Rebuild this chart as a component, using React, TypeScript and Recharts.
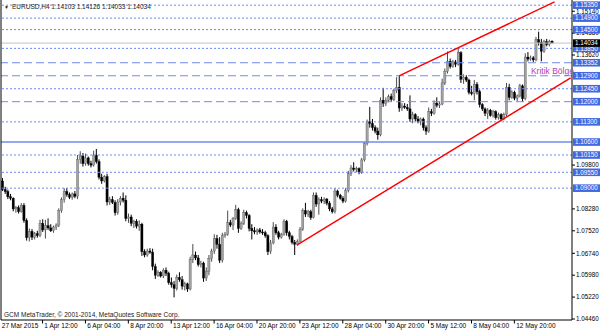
import React from 'react';
import { ComposedChart, Bar, Line, XAxis, YAxis, ReferenceLine, ReferenceDot } from 'recharts';

// ---- EURUSD H4 candles ----
const OPEN = [
  1.0925,1.0895,1.0888,1.0870,1.0865,1.0828,1.0832,1.0818,1.0840,1.0788,
  1.0728,1.0750,1.0730,1.0742,1.0735,1.0778,1.0755,1.0770,1.0762,1.0752,
  1.0765,1.0772,1.0822,1.0860,1.0888,1.0878,1.0868,1.0880,1.0872,1.1000,
  1.1012,1.0985,1.1005,1.0985,1.0980,1.1015,1.0992,1.0938,1.0925,1.0940,
  1.0852,1.0860,1.0850,1.0815,1.0852,1.0865,1.0858,1.0795,1.0800,1.0778,
  1.0785,1.0768,1.0775,1.0680,1.0668,1.0682,1.0678,1.0628,1.0598,1.0608,
  1.0595,1.0615,1.0605,1.0572,1.0565,1.0552,1.0590,1.0582,1.0560,1.0568,
  1.0550,1.0652,1.0668,1.0658,1.0635,1.0640,1.0588,1.0612,1.0655,1.0682,
  1.0725,1.0705,1.0650,1.0735,1.0740,1.0780,1.0772,1.0795,1.0825,1.0760,
  1.0778,1.0815,1.0805,1.0760,1.0752,1.0748,1.0755,1.0748,1.0745,1.0735,
  1.0680,1.0710,1.0765,1.0745,1.0730,1.0740,1.0785,1.0745,1.0732,1.0712,
  1.0705,1.0715,1.0758,1.0822,1.0810,1.0818,1.0798,1.0875,1.0845,1.0860,
  1.0855,1.0862,1.0848,1.0828,1.0818,1.0890,1.0875,1.0865,1.0855,1.0892,
  1.0950,1.0970,1.0965,1.0968,1.0955,1.0998,1.1055,1.1130,1.1125,1.1110,
  1.1098,1.1085,1.1205,1.1195,1.1205,1.1218,1.1208,1.1238,1.1250,1.1178,
  1.1185,1.1180,1.1175,1.1140,1.1155,1.1140,1.1132,1.1140,1.1110,1.1098,
  1.1165,1.1160,1.1195,1.1188,1.1192,1.1265,1.1305,1.1340,1.1322,1.1338,
  1.1330,1.1370,1.1278,1.1285,1.1275,1.1232,1.1228,1.1260,1.1235,1.1190,
  1.1175,1.1160,1.1170,1.1152,1.1165,1.1145,1.1155,1.1140,1.1155,1.1250,
  1.1215,1.1232,1.1212,1.1220,1.1255,1.1210,1.1355,1.1348,1.1352,1.1345,
  1.1415,1.1405,1.1375,1.1408,1.1398,1.14103,
];
const HIGH = [
  1.0935,1.0905,1.0895,1.0880,1.0868,1.0838,1.0840,1.0848,1.0848,1.0795,
  1.0760,1.0758,1.0748,1.0752,1.0790,1.0792,1.0790,1.0795,1.0775,1.0770,
  1.0778,1.0830,1.0868,1.0900,1.0900,1.0885,1.0885,1.0890,1.1015,1.1028,
  1.1022,1.1020,1.1010,1.0995,1.1030,1.1036,1.1000,1.0950,1.0945,1.0950,
  1.0870,1.0872,1.0858,1.0862,1.0872,1.0885,1.0875,1.0812,1.0808,1.0790,
  1.0792,1.0788,1.0780,1.0688,1.0690,1.0692,1.0690,1.0638,1.0615,1.0612,
  1.0622,1.0625,1.0610,1.0590,1.0578,1.0600,1.0608,1.0595,1.0575,1.0572,
  1.0662,1.0706,1.0680,1.0668,1.0648,1.0645,1.0625,1.0668,1.0690,1.0740,
  1.0738,1.0730,1.0745,1.0748,1.0822,1.0790,1.0800,1.0842,1.0832,1.0785,
  1.0825,1.0822,1.0810,1.0775,1.0765,1.0760,1.0762,1.0758,1.0752,1.0740,
  1.0720,1.0782,1.0775,1.0752,1.0745,1.0792,1.0790,1.0752,1.0738,1.0720,
  1.0722,1.0765,1.0830,1.0849,1.0825,1.0825,1.0885,1.0885,1.0868,1.0870,
  1.0868,1.0866,1.0855,1.0835,1.0900,1.0895,1.0880,1.0872,1.0900,1.0960,
  1.0980,1.0990,1.0975,1.0972,1.1005,1.1060,1.1138,1.1182,1.1140,1.1118,
  1.1110,1.1215,1.1248,1.1215,1.1225,1.1228,1.1245,1.1285,1.1290,1.1195,
  1.1195,1.1192,1.1222,1.1165,1.1160,1.1150,1.1145,1.1145,1.1118,1.1180,
  1.1175,1.1205,1.1215,1.1200,1.1280,1.1315,1.1374,1.1350,1.1345,1.1345,
  1.1386,1.1375,1.1295,1.1292,1.1280,1.1255,1.1275,1.1268,1.1242,1.1195,
  1.1180,1.1178,1.1175,1.1172,1.1170,1.1162,1.1160,1.1162,1.1265,1.1262,
  1.1240,1.1238,1.1225,1.1262,1.1260,1.1368,1.1372,1.1360,1.1358,1.1425,
  1.1443,1.1418,1.1415,1.1418,1.1415,1.14126,
];
const LOW = [
  1.0890,1.0880,1.0862,1.0858,1.0820,1.0815,1.0812,1.0815,1.0780,1.0718,
  1.0715,1.0720,1.0722,1.0728,1.0730,1.0748,1.0725,1.0755,1.0748,1.0745,
  1.0755,1.0765,1.0815,1.0850,1.0870,1.0862,1.0860,1.0865,1.0862,1.0985,
  1.0975,1.0978,1.0978,1.0972,1.0975,1.0985,1.0930,1.0915,1.0920,1.0840,
  1.0842,1.0845,1.0805,1.0808,1.0840,1.0850,1.0785,1.0780,1.0768,1.0762,
  1.0760,1.0752,1.0665,1.0660,1.0662,1.0672,1.0615,1.0585,1.0592,1.0590,
  1.0588,1.0595,1.0565,1.0555,1.0521,1.0545,1.0575,1.0548,1.0545,1.0540,
  1.0545,1.0640,1.0650,1.0628,1.0625,1.0575,1.0578,1.0598,1.0645,1.0672,
  1.0690,1.0640,1.0642,1.0728,1.0735,1.0765,1.0755,1.0790,1.0745,1.0755,
  1.0772,1.0795,1.0750,1.0722,1.0740,1.0738,1.0742,1.0738,1.0728,1.0668,
  1.0672,1.0705,1.0738,1.0722,1.0725,1.0735,1.0735,1.0722,1.0705,1.0668,
  1.0700,1.0712,1.0752,1.0800,1.0800,1.0790,1.0795,1.0835,1.0808,1.0848,
  1.0845,1.0840,1.0820,1.0812,1.0812,1.0868,1.0860,1.0848,1.0850,1.0885,
  1.0942,1.0958,1.0955,1.0948,1.0950,1.0992,1.1048,1.1110,1.1100,1.1090,
  1.1068,1.1080,1.1182,1.1185,1.1198,1.1200,1.1202,1.1230,1.1165,1.1168,
  1.1175,1.1168,1.1130,1.1125,1.1132,1.1125,1.1118,1.1100,1.1085,1.1092,
  1.1150,1.1155,1.1180,1.1178,1.1188,1.1258,1.1298,1.1315,1.1318,1.1320,
  1.1325,1.1265,1.1262,1.1268,1.1225,1.1222,1.1205,1.1225,1.1180,1.1168,
  1.1150,1.1140,1.1148,1.1145,1.1138,1.1138,1.1132,1.1135,1.1150,1.1205,
  1.1210,1.1205,1.1202,1.1215,1.1200,1.1205,1.1340,1.1342,1.1338,1.1340,
  1.1395,1.1340,1.1370,1.1392,1.1392,1.14033,
];
const CLOSE = [
  1.0895,1.0888,1.0870,1.0865,1.0828,1.0832,1.0818,1.0840,1.0788,1.0728,
  1.0750,1.0730,1.0742,1.0735,1.0778,1.0755,1.0770,1.0762,1.0752,1.0765,
  1.0772,1.0822,1.0860,1.0888,1.0878,1.0868,1.0880,1.0872,1.1000,1.1012,
  1.0985,1.1005,1.0985,1.0980,1.1015,1.0992,1.0938,1.0925,1.0940,1.0852,
  1.0860,1.0850,1.0815,1.0852,1.0865,1.0858,1.0795,1.0800,1.0778,1.0785,
  1.0768,1.0775,1.0680,1.0668,1.0682,1.0678,1.0628,1.0598,1.0608,1.0595,
  1.0615,1.0605,1.0572,1.0565,1.0552,1.0590,1.0582,1.0560,1.0568,1.0550,
  1.0652,1.0668,1.0658,1.0635,1.0640,1.0588,1.0612,1.0655,1.0682,1.0725,
  1.0705,1.0650,1.0735,1.0740,1.0780,1.0772,1.0795,1.0825,1.0760,1.0778,
  1.0815,1.0805,1.0760,1.0752,1.0748,1.0755,1.0748,1.0745,1.0735,1.0680,
  1.0710,1.0765,1.0745,1.0730,1.0740,1.0785,1.0745,1.0732,1.0712,1.0705,
  1.0715,1.0758,1.0822,1.0810,1.0818,1.0798,1.0875,1.0845,1.0860,1.0855,
  1.0862,1.0848,1.0828,1.0818,1.0890,1.0875,1.0865,1.0855,1.0892,1.0950,
  1.0970,1.0965,1.0968,1.0955,1.0998,1.1055,1.1130,1.1125,1.1110,1.1098,
  1.1085,1.1205,1.1195,1.1205,1.1218,1.1208,1.1238,1.1250,1.1178,1.1185,
  1.1180,1.1175,1.1140,1.1155,1.1140,1.1132,1.1140,1.1110,1.1098,1.1165,
  1.1160,1.1195,1.1188,1.1192,1.1265,1.1305,1.1340,1.1322,1.1338,1.1330,
  1.1370,1.1278,1.1285,1.1275,1.1232,1.1228,1.1260,1.1235,1.1190,1.1175,
  1.1160,1.1170,1.1152,1.1165,1.1145,1.1155,1.1140,1.1155,1.1250,1.1215,
  1.1232,1.1212,1.1220,1.1255,1.1210,1.1355,1.1348,1.1352,1.1345,1.1415,
  1.1405,1.1375,1.1408,1.1398,1.1410,1.14034,
];

// total bar slots on the time axis (right part is the empty chart shift)
const SLOT_COUNT = 213;

const X_TICK_INDEX = [0, 15, 31, 47, 63, 79, 95, 111, 127, 143, 159, 175, 191];
const X_TICK_LABELS = [
  '27 Mar 2015', '1 Apr 12:00', '6 Apr 04:00', '8 Apr 20:00', '13 Apr 12:00', '16 Apr 04:00',
  '20 Apr 20:00', '23 Apr 12:00', '28 Apr 04:00', '30 Apr 20:00', '5 May 12:00', '8 May 04:00', '12 May 20:00',
];

const PRICE_TICKS = [1.0446, 1.0522, 1.0598, 1.0674, 1.0752, 1.0828, 1.098, 1.1362, 1.1438, 1.1514];
const LEVELS = [1.1535, 1.149, 1.145, 1.1385, 1.13352, 1.129, 1.1245, 1.12, 1.113, 1.106, 1.1015, 1.0955, 1.09];
const LEVEL_STYLES = ['dot', 'dot', 'dot', 'dot', 'dash', 'dash', 'dot', 'dash', 'dot', 'solid', 'dot', 'dot', 'dot'];
const BID = 1.14034;

const UPPER_TREND = [{ i: 148, p: 1.129 }, { i: 206, p: 1.1546 }];
const LOWER_TREND = [{ i: 110, p: 1.0703 }, { i: 212, p: 1.1283 }];
const ZONE_NOTE = { i: 197, p: 1.13056, text: 'Kritik Bölge' };

const TITLE = 'EURUSD,H4  1.14103 1.14126 1.14033 1.14034';
const FOOTER = 'GCM MetaTrader, © 2001-2014, MetaQuotes Software Corp.';

const Y_DOMAIN = [1.04425, 1.15529];
const FONT = '"Liberation Sans", Arial, sans-serif';

const rows = Array.from({ length: SLOT_COUNT }, (_, i) => {
  const r: any = { t: i };
  if (i < CLOSE.length) {
    r.o = OPEN[i];
    r.h = HIGH[i];
    r.l = LOW[i];
    r.c = CLOSE[i];
    r.range = [LOW[i], HIGH[i]];
  }
  const u = UPPER_TREND.find((q) => q.i === i);
  if (u) r.tu = u.p;
  const d = LOWER_TREND.find((q) => q.i === i);
  if (d) r.tl = d.p;
  return r;
});

const Candle = (props: any) => {
  const { x, y, width, height, payload } = props;
  if (!payload || payload.o == null) return null;
  const { o, h, l, c } = payload;
  const top = Math.min(y, y + height);
  const bot = Math.max(y, y + height);
  const span = h - l;
  const py = (p: number) => (span > 0 ? top + ((h - p) / span) * (bot - top) : top);
  const cx = x + width / 2;
  const up = c >= o;
  const yO = py(o);
  const yC = py(c);
  const bTop = Math.min(yO, yC);
  const bH = Math.max(Math.abs(yO - yC), 1);
  return (
    <g>
      <line x1={cx} x2={cx} y1={top} y2={bot} stroke={up ? '#4a4a4a' : '#000'} strokeWidth={1} />
      <rect
        x={cx - 1.1}
        y={bTop}
        width={2.2}
        height={bH}
        fill={up ? '#a2a2a2' : '#000'}
        stroke={up ? '#555' : '#000'}
        strokeWidth={0.35}
      />
    </g>
  );
};

const YTick = (props: any) => {
  const { x, y, payload } = props;
  const v = payload.value as number;
  const label = v.toFixed(5);
  const isBid = Math.abs(v - BID) < 1e-7;
  const isLevel = LEVELS.some((q) => Math.abs(q - v) < 1e-7);
  if (isBid || isLevel) {
    return (
      <g>
        <rect x={x + 1} y={y - 3.8} width={27} height={7.6} fill={isBid ? '#000' : '#4169E1'} />
        <text x={x + 3} y={y + 2.3} fill="#fff" fontSize={6.3} fontFamily={FONT}>{label}</text>
      </g>
    );
  }
  return (
    <g>
      <line x1={x} x2={x + 3} y1={y} y2={y} stroke="#000" />
      <text x={x + 4} y={y + 2.3} fill="#000" fontSize={6.3} fontFamily={FONT}>{label}</text>
    </g>
  );
};

const XTick = (props: any) => {
  const { x, y, payload } = props;
  const k = X_TICK_INDEX.indexOf(payload.value);
  if (k < 0) return <g />;
  if (k === 0) {
    return (
      <text x={x - 0.5} y={y + 8.3} fill="#000" fontSize={6.5} fontFamily={FONT}>{X_TICK_LABELS[k]}</text>
    );
  }
  return (
    <g>
      <line x1={x} x2={x} y1={y} y2={y + 3.5} stroke="#000" />
      <text x={x + 1.8} y={y + 8.3} fill="#000" fontSize={6.5} fontFamily={FONT}>{X_TICK_LABELS[k]}</text>
    </g>
  );
};

const NoteLabel = (props: any) => {
  const vb = props.viewBox || {};
  const cx = (vb.x ?? 0) + (vb.width ?? 0) / 2;
  const cy = (vb.y ?? 0) + (vb.height ?? 0) / 2;
  return (
    <text x={cx + 0.5} y={cy + 3} fill="#B43CB4" fontSize={8.5} fontFamily={FONT}>{ZONE_NOTE.text}</text>
  );
};

const dashFor = (s: string) => (s === 'dot' ? '2 2' : s === 'dash' ? '8 4' : undefined);

export default function App() {
  return (
    <div style={{ position: 'absolute', left: 0, top: 0, width: 600, height: 333, background: '#fff', overflow: 'hidden' }}>
      <ComposedChart
        width={600}
        height={333}
        data={rows}
        margin={{ top: 0, right: 0, bottom: 0, left: 0 }}
        barCategoryGap={0}
        barGap={0}
      >
        <XAxis
          dataKey="t"
          type="category"
          interval={0}
          height={13}
          tickLine={false}
          tickSize={0}
          tickMargin={0}
          axisLine={{ stroke: '#000' }}
          tick={<XTick />}
        />
        <YAxis
          yAxisId="frame"
          orientation="left"
          width={1}
          tick={false}
          tickLine={false}
          axisLine={{ stroke: '#000' }}
          domain={[0, 1]}
        />
        <YAxis
          yAxisId="p"
          orientation="right"
          width={28}
          type="number"
          domain={Y_DOMAIN}
          allowDataOverflow
          ticks={[...PRICE_TICKS, ...LEVELS, BID]}
          interval={0}
          tickLine={false}
          tickSize={0}
          tickMargin={0}
          axisLine={{ stroke: '#000' }}
          tick={<YTick />}
        />
        {LEVELS.map((v, k) => (
          <ReferenceLine
            key={'lv' + k}
            yAxisId="p"
            y={v}
            stroke="#6F8DEB"
            strokeWidth={LEVEL_STYLES[k] === 'solid' ? 1.5 : 1}
            strokeDasharray={dashFor(LEVEL_STYLES[k])}
          />
        ))}
        <ReferenceLine yAxisId="p" y={BID} stroke="#c4c4c4" strokeWidth={1} />
        <Bar yAxisId="p" dataKey="range" shape={<Candle />} isAnimationActive={false} />
        <Line yAxisId="p" dataKey="tu" stroke="#ff0000" strokeWidth={1.4} dot={false} connectNulls isAnimationActive={false} />
        <Line yAxisId="p" dataKey="tl" stroke="#ff0000" strokeWidth={1.4} dot={false} connectNulls isAnimationActive={false} />
        <ReferenceDot
          yAxisId="p"
          x={ZONE_NOTE.i}
          y={ZONE_NOTE.p}
          r={1}
          fill="none"
          stroke="none"
          label={<NoteLabel />}
        />
      </ComposedChart>
      <svg width={600} height={333} style={{ position: 'absolute', left: 0, top: 0, pointerEvents: 'none' }}>
        <text x={4} y={8.6} fill="#222" fontSize={5} fontFamily={FONT}>▼</text>
        <text x={12} y={8.6} fill="#222" fontSize={6.5} fontFamily={FONT}>{TITLE}</text>
        <text x={4} y={316.5} fill="#222" fontSize={6.5} fontFamily={FONT}>{FOOTER}</text>
      </svg>
    </div>
  );
}
